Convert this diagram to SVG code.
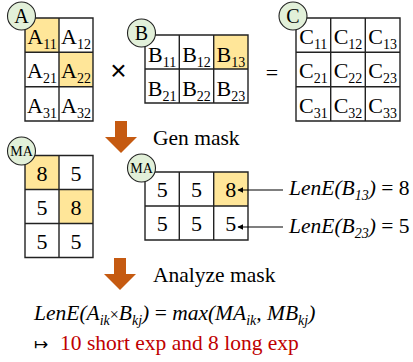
<svg xmlns="http://www.w3.org/2000/svg" width="413" height="362" viewBox="0 0 413 362" font-family="Liberation Serif, serif">
<defs>
<style>
.t{fill:#000}
.cell{font-size:22px;text-anchor:middle}
.sub{font-size:14px}
.grid{fill:none;stroke:#222;stroke-width:1.4}
.hl{fill:#FFE699}
.bg{fill:#fff}
.lab{fill:#E2F0D9;stroke:#222;stroke-width:1.1}
.labt{font-size:20px;text-anchor:middle}
.labs{font-size:14px;text-anchor:middle}
.big{font-size:21.5px}
.it{font-style:italic}
.flow{fill:#C55A11}
.ptr{stroke:#000;stroke-width:1.2;fill:none}
</style>
<marker id="ah" viewBox="0 0 10 10" refX="9" refY="5" markerWidth="6" markerHeight="6" orient="auto" markerUnits="userSpaceOnUse">
<path d="M0,0 L10,5 L0,10 z" fill="#000"/>
</marker>
</defs>
<rect width="413" height="362" fill="#fff"/>

<g id="matrixA">
<rect class="bg" x="25" y="18" width="68" height="103"/>
<rect class="hl" x="25" y="18" width="34" height="34.3"/>
<rect class="hl" x="59" y="52.3" width="34" height="34.4"/>
<path class="grid" d="M25,18H93V121H25Z M59,18V121 M25,52.3H93 M25,86.7H93"/>
<text class="t cell" x="42" y="44">A<tspan class="sub" dy="5">11</tspan></text>
<text class="t cell" x="76" y="44">A<tspan class="sub" dy="5">12</tspan></text>
<text class="t cell" x="42" y="78.3">A<tspan class="sub" dy="5">21</tspan></text>
<text class="t cell" x="76" y="78.3">A<tspan class="sub" dy="5">22</tspan></text>
<text class="t cell" x="42" y="112.7">A<tspan class="sub" dy="5">31</tspan></text>
<text class="t cell" x="76" y="112.7">A<tspan class="sub" dy="5">32</tspan></text>
<circle class="lab" cx="21.5" cy="16" r="14"/>
<text class="t labt" x="21.5" y="23">A</text>
</g>

<g id="times">
<text class="t" x="118.5" y="80" font-family="Liberation Sans, sans-serif" font-size="28" text-anchor="middle">×</text>
</g>

<g id="matrixB">
<rect class="bg" x="145" y="35" width="103" height="68"/>
<rect class="hl" x="213.7" y="35" width="34.3" height="34"/>
<path class="grid" d="M145,35H248V103H145Z M179.3,35V103 M213.7,35V103 M145,69H248"/>
<text class="t cell" x="162.2" y="62">B<tspan class="sub" dy="5">11</tspan></text>
<text class="t cell" x="196.5" y="62">B<tspan class="sub" dy="5">12</tspan></text>
<text class="t cell" x="230.8" y="62">B<tspan class="sub" dy="5">13</tspan></text>
<text class="t cell" x="162.2" y="96">B<tspan class="sub" dy="5">21</tspan></text>
<text class="t cell" x="196.5" y="96">B<tspan class="sub" dy="5">22</tspan></text>
<text class="t cell" x="230.8" y="96">B<tspan class="sub" dy="5">23</tspan></text>
<circle class="lab" cx="141.5" cy="33" r="14"/>
<text class="t labt" x="141.5" y="40">B</text>
</g>

<g id="equals">
<text class="t" x="272" y="80" font-size="22" text-anchor="middle">=</text>
</g>

<g id="matrixC">
<rect class="bg" x="296" y="18" width="104" height="103"/>
<path class="grid" d="M296,18H400V121H296Z M330.7,18V121 M365.3,18V121 M296,52.3H400 M296,86.7H400"/>
<text class="t cell" x="313.3" y="44">C<tspan class="sub" dy="5">11</tspan></text>
<text class="t cell" x="348" y="44">C<tspan class="sub" dy="5">12</tspan></text>
<text class="t cell" x="382.7" y="44">C<tspan class="sub" dy="5">13</tspan></text>
<text class="t cell" x="313.3" y="78.3">C<tspan class="sub" dy="5">21</tspan></text>
<text class="t cell" x="348" y="78.3">C<tspan class="sub" dy="5">22</tspan></text>
<text class="t cell" x="382.7" y="78.3">C<tspan class="sub" dy="5">23</tspan></text>
<text class="t cell" x="313.3" y="112.7">C<tspan class="sub" dy="5">31</tspan></text>
<text class="t cell" x="348" y="112.7">C<tspan class="sub" dy="5">32</tspan></text>
<text class="t cell" x="382.7" y="112.7">C<tspan class="sub" dy="5">33</tspan></text>
<circle class="lab" cx="293" cy="16" r="14"/>
<text class="t labt" x="293" y="23">C</text>
</g>

<g id="genMaskLabel">
<text class="t big" x="153" y="145">Gen mask</text>
</g>

<g id="maskA">
<rect class="bg" x="25" y="155.5" width="68" height="102"/>
<rect class="hl" x="25" y="155.5" width="34" height="34"/>
<rect class="hl" x="59" y="189.5" width="34" height="34"/>
<path class="grid" d="M25,155.5H93V257.5H25Z M59,155.5V257.5 M25,189.5H93 M25,223.5H93"/>
<text class="t cell" x="42" y="180.5">8</text>
<text class="t cell" x="76" y="180.5">5</text>
<text class="t cell" x="42" y="214.5">5</text>
<text class="t cell" x="76" y="214.5">8</text>
<text class="t cell" x="42" y="248.5">5</text>
<text class="t cell" x="76" y="248.5">5</text>
<circle class="lab" cx="21.5" cy="151" r="14"/>
<text class="t labs" x="21.5" y="156">MA</text>
</g>

<g id="maskB">
<rect class="bg" x="145" y="172" width="103" height="68"/>
<rect class="hl" x="213.7" y="172" width="34.3" height="34"/>
<path class="grid" d="M145,172H248V240H145Z M179.3,172V240 M213.7,172V240 M145,206H248"/>
<text class="t cell" x="162.2" y="197">5</text>
<text class="t cell" x="196.5" y="197">5</text>
<text class="t cell" x="230.8" y="197">8</text>
<text class="t cell" x="162.2" y="231">5</text>
<text class="t cell" x="196.5" y="231">5</text>
<text class="t cell" x="230.8" y="231">5</text>
<circle class="lab" cx="141.5" cy="168" r="14"/>
<text class="t labs" x="141.5" y="173">MA</text>
</g>

<g id="lenB13">
<text class="t big" x="289" y="195"><tspan class="it">LenE(B</tspan><tspan class="it sub" dy="5">13</tspan><tspan class="it" dy="-5">)</tspan> = 8</text>
</g>
<g id="lenB23">
<text class="t big" x="289" y="233"><tspan class="it">LenE(B</tspan><tspan class="it sub" dy="5">23</tspan><tspan class="it" dy="-5">)</tspan> = 5</text>
</g>

<g id="analyzeMaskLabel">
<text class="t big" x="153" y="282">Analyze mask</text>
</g>

<g id="formula">
<text class="t big it" x="34" y="320">LenE(A<tspan class="sub" dy="5">ik</tspan><tspan dy="-5" font-style="normal" font-size="16">×</tspan>B<tspan class="sub" dy="5">kj</tspan><tspan dy="-5">) </tspan><tspan font-style="normal">=</tspan> max(MA<tspan class="sub" dy="5">ik</tspan><tspan dy="-5">, MB</tspan><tspan class="sub" dy="5">kj</tspan><tspan dy="-5">)</tspan></text>
</g>

<g id="result">
<text class="t big" x="34" y="350"><tspan font-family="DejaVu Sans, sans-serif" font-size="17">↦</tspan> <tspan fill="#C00000" x="60">10 short exp and 8 long exp</tspan></text>
</g>

<g id="connectors">
<path class="flow" d="M115,121H127V137H137L121,153L105,137H115Z"/>
<path class="flow" d="M114,258H126V274H136L120,290L104,274H114Z"/>
<line class="ptr" x1="283" y1="190" x2="238" y2="190" marker-end="url(#ah)"/>
<line class="ptr" x1="283" y1="227" x2="238" y2="227" marker-end="url(#ah)"/>
</g>
</svg>
